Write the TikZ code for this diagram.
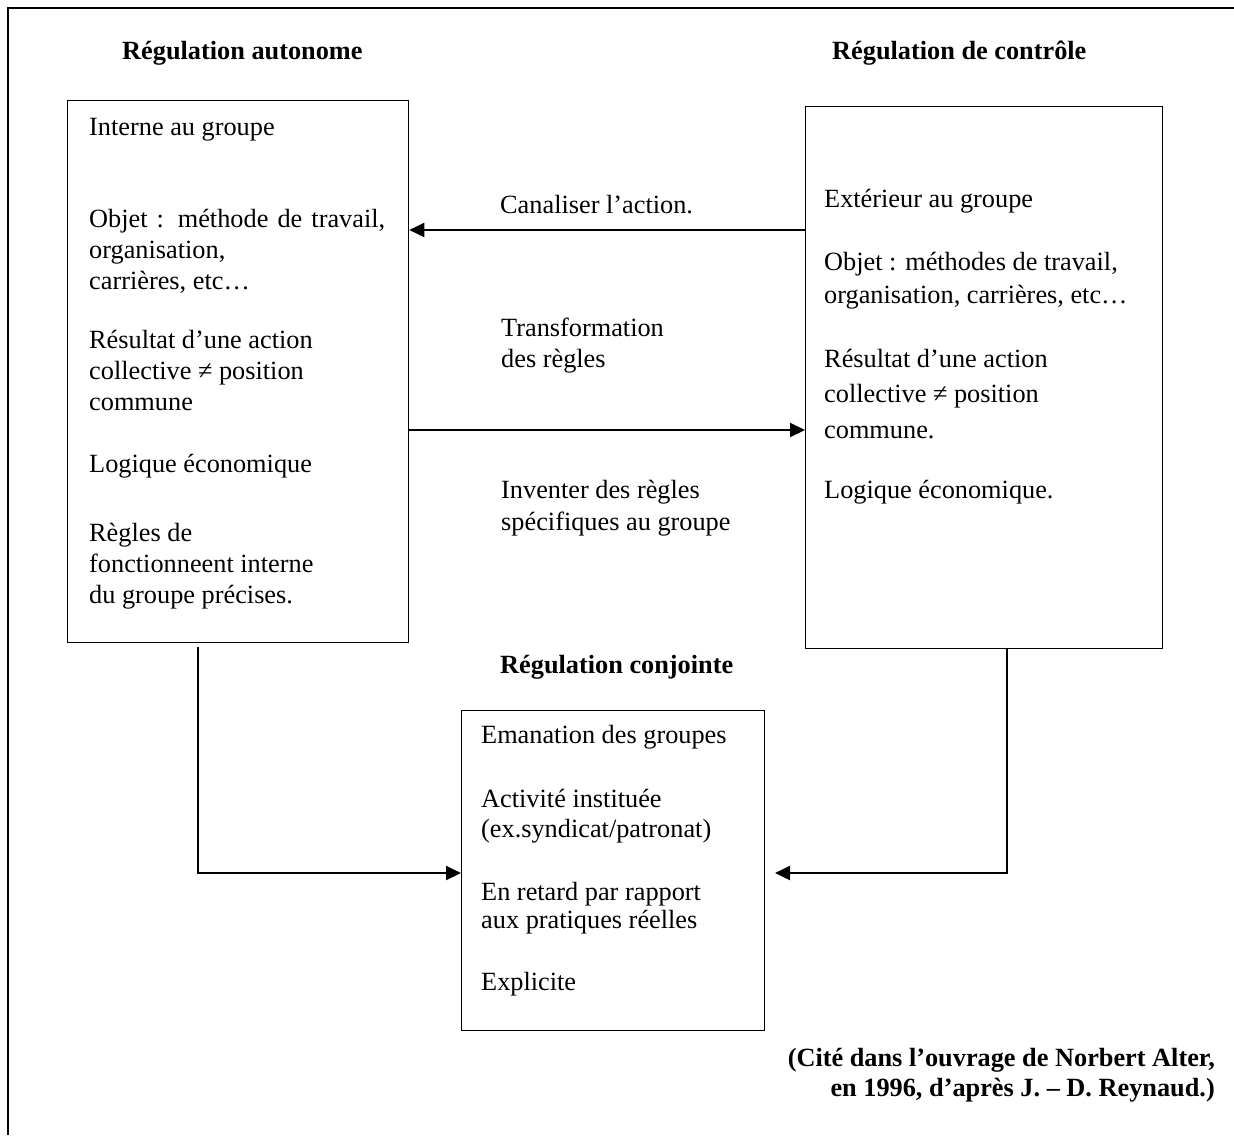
\documentclass[tikz,border=0pt]{standalone}
\usepackage{fontspec}
\setmainfont{Liberation Serif}
\usetikzlibrary{arrows.meta}
\begin{document}
\begin{tikzpicture}[x=1pt,y=-1pt,
  box/.style={draw, line width=1.3pt, inner sep=0pt, anchor=north west},
  txt/.style={anchor=base west, inner sep=0pt, align=left, font=\fontsize{26.3}{31}\selectfont},
  ttl/.style={anchor=base west, inner sep=0pt, font=\fontsize{26.3}{31}\selectfont\bfseries},
  arr/.style={line width=2pt, -{Triangle[length=15pt,width=14pt]}},
  frameline/.style={line width=2pt}]
\useasboundingbox (0,0) rectangle (1234,1135);
\draw[frameline] (8,1135) -- (8,8) -- (1234,8);

% titles
\node[ttl] (tA) at (122,59) {Régulation autonome};
\node[ttl] (tC) at (832,59) {Régulation de contrôle};
\node[ttl] (tJ) at (500,673) {Régulation conjointe};
\node[anchor=base east, inner sep=0pt, align=right, font=\fontsize{26.3}{30}\selectfont\bfseries] (cite) at (1215,1096)
  {(Cité dans l’ouvrage de Norbert Alter,\\en 1996, d’après J. – D. Reynaud.)};

% boxes
\node[box, minimum width=341pt, minimum height=542pt] (L) at (67,100) {};
\node[box, minimum width=357pt, minimum height=542pt] (R) at (805,106) {};
\node[box, minimum width=303pt, minimum height=320pt] (B) at (461,710) {};

% left box text (base = last line)
\node[txt] (l1) at (89,135) {Interne au groupe};
\node[txt] (l2) at (89,289) {\makebox[296pt][s]{Objet : méthode de travail,}\\organisation,\\carrières, etc…};
\node[txt] (l3) at (89,410) {Résultat d’une action\\collective ≠ position\\commune};
\node[txt] (l4) at (89,472) {Logique économique};
\node[txt] (l5) at (89,603) {Règles de\\fonctionneent interne\\du groupe précises.};

% right box text
\node[txt] (r1) at (824,207) {Extérieur au groupe};
\node[txt, font=\fontsize{26.3}{33}\selectfont] (r2) at (824,303) {Objet : méthodes de travail,\\organisation, carrières, etc…};
\node[txt, font=\fontsize{26.3}{35.5}\selectfont] (r3) at (824,438) {Résultat d’une action\\collective ≠ position\\commune.};
\node[txt] (r4) at (824,498) {Logique économique.};

% middle labels
\node[txt] (m1) at (500,213) {Canaliser l’action.};
\node[txt] (m2) at (501,367) {Transformation\\des règles};
\node[txt, font=\fontsize{26.3}{32}\selectfont] (m3) at (501,530) {Inventer des règles\\spécifiques au groupe};

% bottom box text
\node[txt] (b1) at (481,743) {Emanation des groupes};
\node[txt, font=\fontsize{26.3}{30}\selectfont] (b2) at (481,837) {Activité instituée\\(ex.syndicat/patronat)};
\node[txt, font=\fontsize{26.3}{28}\selectfont] (b3) at (481,928) {En retard par rapport\\aux pratiques réelles};
\node[txt] (b4) at (481,990) {Explicite};

% connectors
\draw[arr] (R.west |- 0,230) -- (L.east |- 0,230);
\draw[arr] (L.east |- 0,430) -- (R.west |- 0,430);
\coordinate (ls) at (198,647);
\draw[arr] (ls) |- (B.west |- 0,873);
\coordinate (rs) at (1007,648);
\coordinate (re) at (775,873);
\draw[arr] (rs) |- (re);
\end{tikzpicture}
\end{document}
